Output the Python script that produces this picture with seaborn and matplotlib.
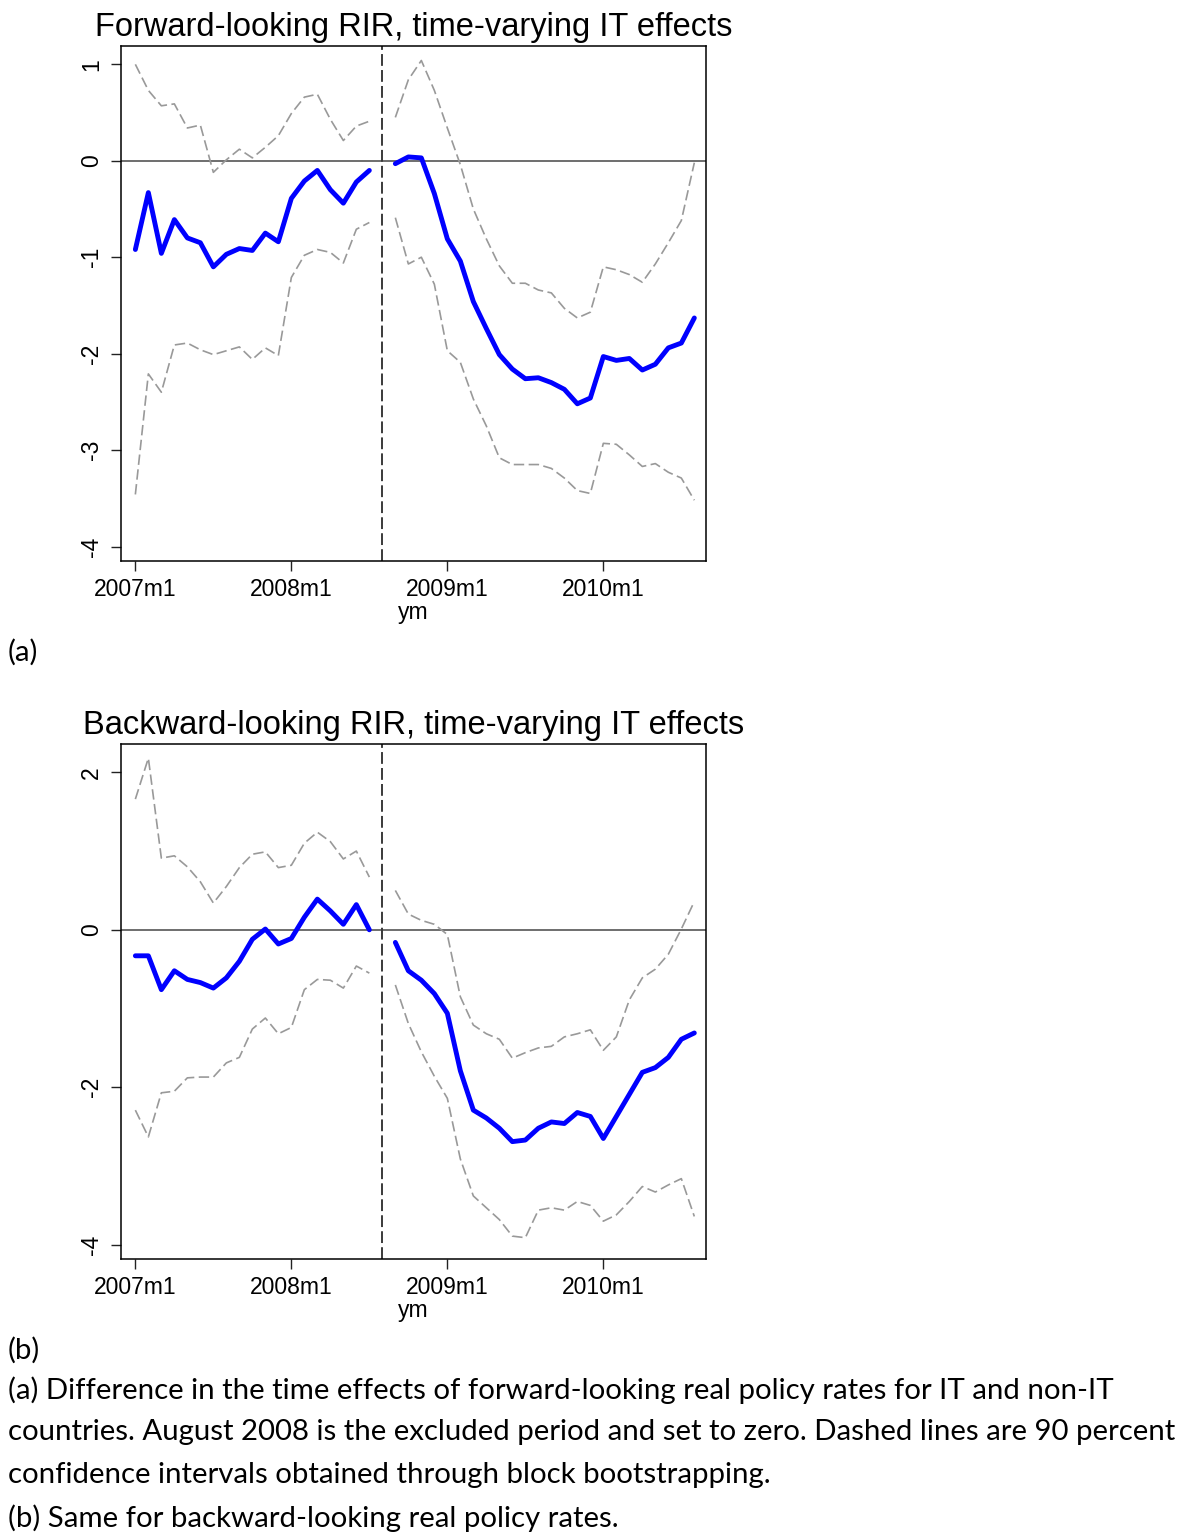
import numpy as np
import pandas as pd
import matplotlib
matplotlib.use("Agg")
import matplotlib.pyplot as plt
import seaborn as sns

# monthly index: 0 = 2007m1 ... 43 = 2010m8; 19 = 2008m8 (excluded period)
months = list(range(44))
tick_pos = [0, 12, 24, 36]
tick_labels = ["2007m1", "2008m1", "2009m1", "2010m1"]
excluded = 19
nan = np.nan

# (a) forward-looking RIR
fwd_est = [-0.92, -0.33, -0.96, -0.61, -0.80, -0.85, -1.10, -0.97, -0.91, -0.93,
           -0.75, -0.84, -0.39, -0.21, -0.10, -0.30, -0.44, -0.22, -0.10, nan,
           -0.03, 0.04, 0.03, -0.34, -0.81, -1.04, -1.46, -1.74, -2.01, -2.16,
           -2.26, -2.25, -2.30, -2.37, -2.52, -2.46, -2.03, -2.07, -2.05, -2.17,
           -2.11, -1.94, -1.89, -1.63]
fwd_hi = [1.00, 0.73, 0.57, 0.59, 0.34, 0.37, -0.12, 0.01, 0.12, 0.03,
          0.14, 0.26, 0.49, 0.66, 0.69, 0.43, 0.21, 0.36, 0.41, nan,
          0.45, 0.84, 1.04, 0.73, 0.34, -0.04, -0.50, -0.81, -1.09, -1.27,
          -1.27, -1.34, -1.37, -1.53, -1.63, -1.57, -1.10, -1.13, -1.18, -1.26,
          -1.07, -0.85, -0.62, -0.02]
fwd_lo = [-3.46, -2.21, -2.40, -1.91, -1.89, -1.96, -2.01, -1.97, -1.93, -2.06,
          -1.94, -2.02, -1.21, -0.98, -0.92, -0.95, -1.06, -0.71, -0.64, nan,
          -0.59, -1.07, -1.00, -1.28, -1.97, -2.09, -2.47, -2.75, -3.08, -3.15,
          -3.15, -3.15, -3.19, -3.29, -3.42, -3.45, -2.93, -2.94, -3.05, -3.17,
          -3.14, -3.23, -3.29, -3.52]

# (b) backward-looking RIR
bwd_est = [-0.33, -0.33, -0.76, -0.52, -0.63, -0.67, -0.74, -0.61, -0.40, -0.12,
           0.01, -0.18, -0.11, 0.16, 0.39, 0.24, 0.07, 0.32, 0.00, nan,
           -0.16, -0.52, -0.64, -0.81, -1.06, -1.79, -2.29, -2.39, -2.52, -2.69,
           -2.67, -2.52, -2.44, -2.46, -2.32, -2.37, -2.65, -2.37, -2.09, -1.81,
           -1.75, -1.62, -1.39, -1.31]
bwd_hi = [1.66, 2.18, 0.91, 0.94, 0.80, 0.61, 0.34, 0.55, 0.79, 0.96,
          0.99, 0.79, 0.82, 1.10, 1.24, 1.12, 0.90, 1.00, 0.67, nan,
          0.50, 0.20, 0.12, 0.07, -0.06, -0.85, -1.21, -1.32, -1.39, -1.63,
          -1.56, -1.50, -1.48, -1.36, -1.32, -1.27, -1.53, -1.36, -0.89, -0.61,
          -0.50, -0.31, 0.01, 0.36]
bwd_lo = [-2.29, -2.63, -2.07, -2.05, -1.88, -1.87, -1.87, -1.69, -1.62, -1.26,
          -1.12, -1.32, -1.24, -0.76, -0.63, -0.64, -0.74, -0.46, -0.55, nan,
          -0.70, -1.19, -1.55, -1.86, -2.14, -2.91, -3.38, -3.53, -3.68, -3.89,
          -3.91, -3.56, -3.53, -3.56, -3.45, -3.50, -3.70, -3.62, -3.45, -3.26,
          -3.33, -3.24, -3.16, -3.64]

caption_lines = [
    "(a) Difference in the time effects of forward-looking real policy rates for IT and non-IT",
    "countries. August 2008 is the excluded period and set to zero. Dashed lines are 90 percent",
    "confidence intervals obtained through block bootstrapping.",
    "(b) Same for backward-looking real policy rates.",
]

sns.set_style("ticks")
plt.rcParams['font.family'] = ['Liberation Sans', 'DejaVu Sans']
plt.rcParams['lines.scale_dashes'] = False
for k in ['text.color', 'axes.labelcolor', 'xtick.color', 'ytick.color']:
    plt.rcParams[k] = 'black'

fig = plt.figure(figsize=(11.88, 15.34), dpi=100)
ax1 = fig.add_axes([0.1019, 0.6343, 0.4924, 0.3357])
ax2 = fig.add_axes([0.1019, 0.1793, 0.4924, 0.3357])


def draw_panel(ax, est, lo, hi, title, yticks, ylim):
    df = pd.DataFrame({'ym': months, 'est': est, 'lo': lo, 'hi': hi})
    df['seg'] = np.where(df['ym'] < excluded, 0, 1)
    df = df.dropna()

    ax.axhline(0, color='#555555', lw=1.2, zorder=1)
    ax.axvline(excluded, color='#3a3a3a', lw=1.4, dashes=(8.5, 3), zorder=1)

    for seg, d in df.groupby('seg'):
        for col in ['hi', 'lo']:
            sns.lineplot(data=d, x='ym', y=col, ax=ax, color='#999999', lw=1.2, zorder=2)
            ax.lines[-1].set_dashes((7.5, 3.2))
        sns.lineplot(data=d, x='ym', y='est', ax=ax, color='#0000ff', lw=3.5, zorder=3)

    ax.set_xlim(-1.1, 43.9)
    ax.set_ylim(*ylim)
    ax.set_xticks(tick_pos)
    ax.set_xticklabels(tick_labels)
    ax.set_yticks(yticks)
    ax.set_yticklabels([str(v) for v in yticks], rotation=90, va='center')
    ax.tick_params(axis='both', labelsize=16.5, length=7, width=1.0, color='#222222')
    ax.tick_params(axis='y', pad=6)
    ax.tick_params(axis='x', pad=5)
    ax.set_xlabel('ym', fontsize=16.5, labelpad=0)
    ax.set_ylabel('')
    ax.set_title(title, fontsize=23.5, pad=7)
    for s in ax.spines.values():
        s.set_color('black')
        s.set_linewidth(1.1)


draw_panel(ax1, fwd_est, fwd_lo, fwd_hi,
           "Forward-looking RIR, time-varying IT effects",
           [1, 0, -1, -2, -3, -4], (-4.15, 1.19))
draw_panel(ax2, bwd_est, bwd_lo, bwd_hi,
           "Backward-looking RIR, time-varying IT effects",
           [2, 0, -2, -4], (-4.18, 2.36))

# panel labels and note, fitted to the reference width
cap_font = ['Lato', 'DejaVu Sans']
W, H = 1188, 1534
fig.text(8 / W, 1 - 652 / H, "(a)", fontsize=20, family=cap_font, va='center')
fig.text(8 / W, 1 - 1350 / H, "(b)", fontsize=20, family=cap_font, va='center')
cap_y = [1390, 1432, 1475, 1518]
texts = []
for line, y in zip(caption_lines, cap_y):
    texts.append(fig.text(8 / W, 1 - y / H, line, fontsize=20, family=cap_font, va='center'))

fig.canvas.draw()
r = fig.canvas.get_renderer()
width = texts[1].get_window_extent(r).width
size = 20 * 1170 / width
for t in fig.texts:
    t.set_fontsize(size)

fig.savefig("out.png", dpi=100, facecolor='white')
